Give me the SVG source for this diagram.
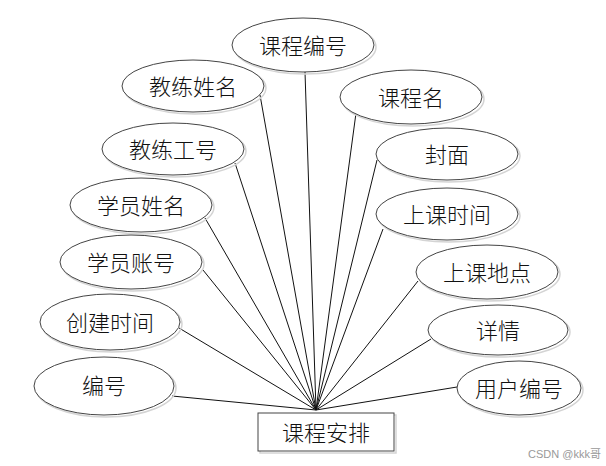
<svg xmlns="http://www.w3.org/2000/svg" width="606" height="466" viewBox="0 0 606 466">
<style>
.sh{fill:none;stroke:#d4d4d4;stroke-width:1.5}
.e{fill:#fff;stroke:#444;stroke-width:1}
.t{font-family:"Noto Sans CJK SC","Noto Sans",sans-serif;font-size:22px;font-weight:300;fill:#111;text-anchor:middle;dominant-baseline:central}
.c line{stroke:#111;stroke-width:1}
.wm{font-family:"Liberation Sans","Noto Sans CJK SC",sans-serif;font-size:11px;fill:#999}
</style>
<rect width="606" height="466" fill="#fff"/>
<g class="c">
<line x1="305" y1="72" x2="316" y2="410"/>
<line x1="260" y1="95" x2="316" y2="410"/>
<line x1="356" y1="113" x2="316" y2="410"/>
<line x1="235" y1="163" x2="316" y2="410"/>
<line x1="377" y1="160" x2="316" y2="410"/>
<line x1="205" y1="218" x2="316" y2="410"/>
<line x1="383" y1="229" x2="316" y2="410"/>
<line x1="203" y1="270" x2="316" y2="410"/>
<line x1="418" y1="281" x2="316" y2="410"/>
<line x1="179" y1="328" x2="316" y2="410"/>
<line x1="431" y1="339" x2="316" y2="410"/>
<line x1="172" y1="396" x2="316" y2="410"/>
<line x1="457" y1="387" x2="316" y2="410"/>
</g>
<g id="n1"><ellipse class="sh" cx="305" cy="47" rx="71" ry="27"/><ellipse class="e" cx="303" cy="45" rx="71" ry="27"/><text class="t" x="303" y="44">课程编号</text></g>
<g id="n2"><ellipse class="sh" cx="195" cy="88" rx="71" ry="26"/><ellipse class="e" cx="193" cy="86" rx="71" ry="26"/><text class="t" x="193" y="85">教练姓名</text></g>
<g id="n3"><ellipse class="sh" cx="413" cy="99" rx="71" ry="27"/><ellipse class="e" cx="411" cy="97" rx="71" ry="27"/><text class="t" x="411" y="96">课程名</text></g>
<g id="n4"><ellipse class="sh" cx="175" cy="151" rx="71" ry="26"/><ellipse class="e" cx="173" cy="149" rx="71" ry="26"/><text class="t" x="173" y="148">教练工号</text></g>
<g id="n5"><ellipse class="sh" cx="449" cy="156" rx="71" ry="26"/><ellipse class="e" cx="447" cy="154" rx="71" ry="26"/><text class="t" x="447" y="153">封面</text></g>
<g id="n6"><ellipse class="sh" cx="143" cy="207" rx="71" ry="27"/><ellipse class="e" cx="141" cy="205" rx="71" ry="27"/><text class="t" x="141" y="204">学员姓名</text></g>
<g id="n7"><ellipse class="sh" cx="449" cy="216" rx="71" ry="26"/><ellipse class="e" cx="447" cy="214" rx="71" ry="26"/><text class="t" x="447" y="213">上课时间</text></g>
<g id="n8"><ellipse class="sh" cx="133" cy="264" rx="71" ry="27"/><ellipse class="e" cx="131" cy="262" rx="71" ry="27"/><text class="t" x="131" y="261">学员账号</text></g>
<g id="n9"><ellipse class="sh" cx="489" cy="274" rx="71" ry="27"/><ellipse class="e" cx="487" cy="272" rx="71" ry="27"/><text class="t" x="487" y="271">上课地点</text></g>
<g id="n10"><ellipse class="sh" cx="112" cy="324" rx="70" ry="28"/><ellipse class="e" cx="110" cy="322" rx="70" ry="28"/><text class="t" x="110" y="321">创建时间</text></g>
<g id="n11"><ellipse class="sh" cx="500" cy="332" rx="70" ry="25"/><ellipse class="e" cx="498" cy="330" rx="70" ry="25"/><text class="t" x="498" y="329">详情</text></g>
<g id="n12"><ellipse class="sh" cx="106" cy="388" rx="70" ry="29"/><ellipse class="e" cx="104" cy="386" rx="70" ry="29"/><text class="t" x="104" y="384">编号</text></g>
<g id="n13"><ellipse class="sh" cx="521" cy="390" rx="62" ry="27"/><ellipse class="e" cx="519" cy="388" rx="62" ry="27"/><text class="t" x="519" y="387">用户编号</text></g>
<g id="main"><rect x="260" y="415" width="136" height="38" fill="none" stroke="#d4d4d4" stroke-width="1.5"/><rect x="258" y="413" width="136" height="38" fill="#fff" stroke="#444" stroke-width="1"/><text class="t" x="326" y="431">课程安排</text></g>
<text class="wm" x="528" y="458">CSDN @kkk哥</text>
</svg>
